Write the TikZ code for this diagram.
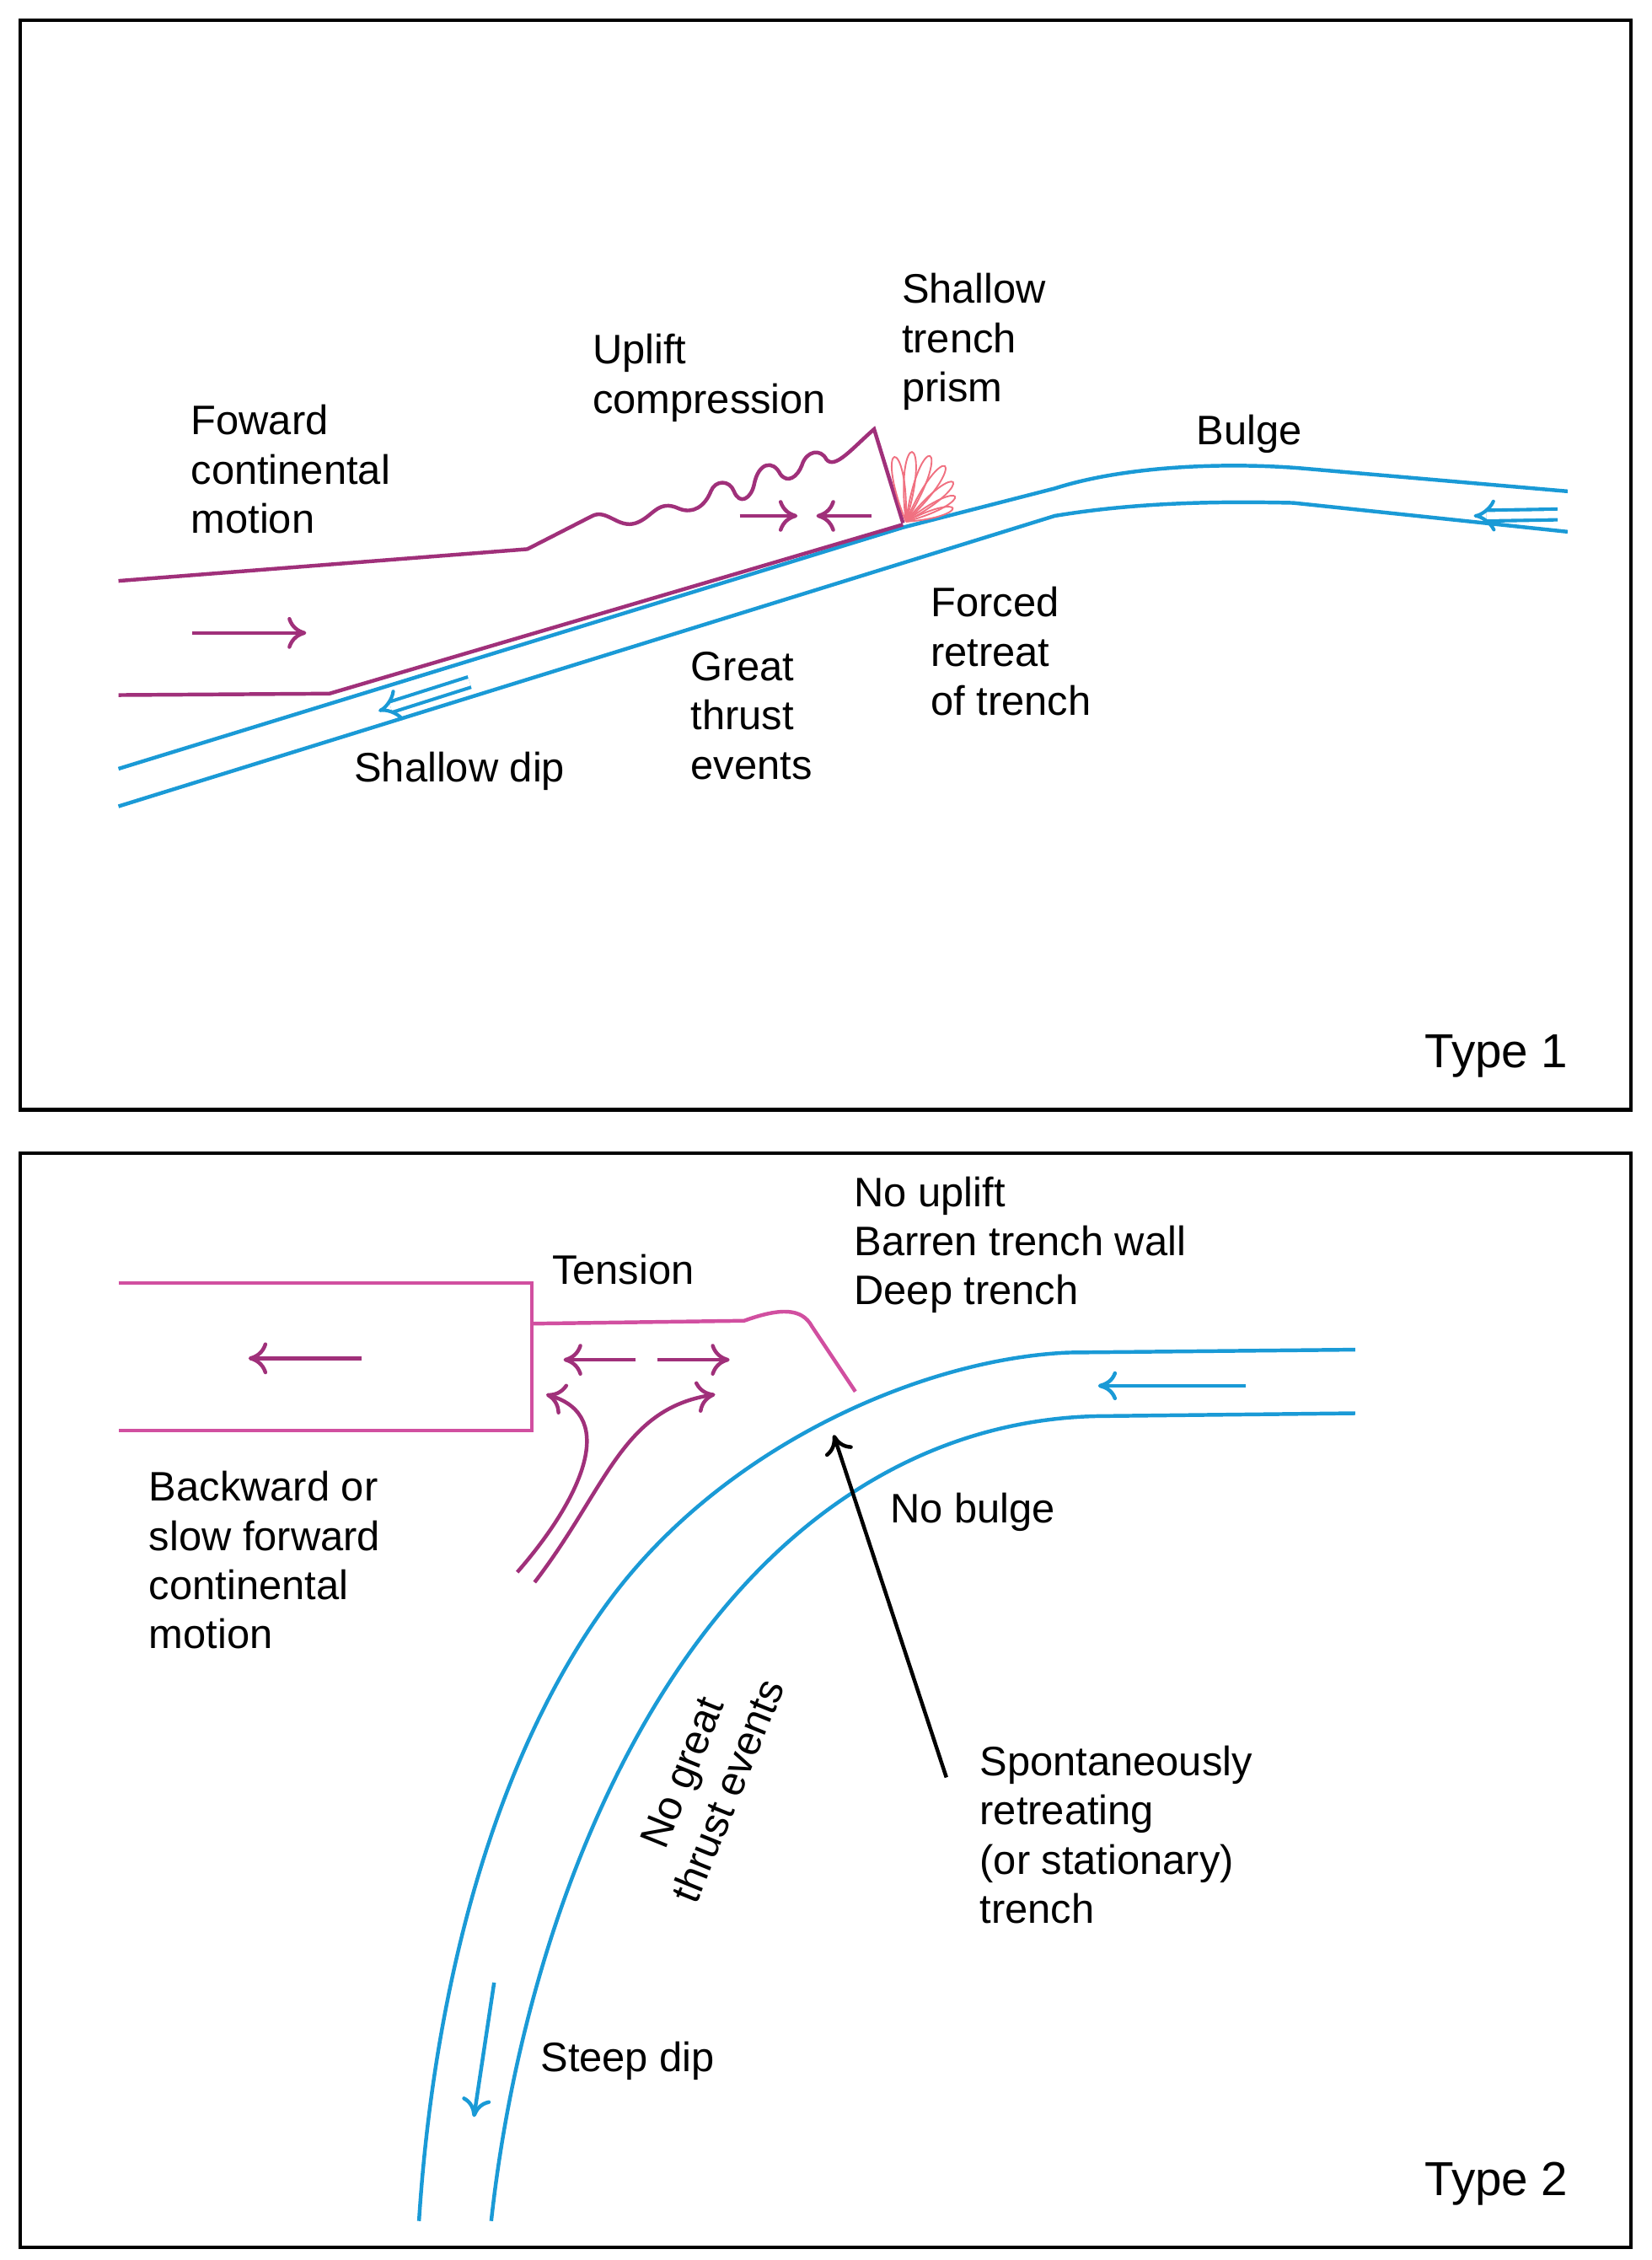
\documentclass[tikz,border=0pt]{standalone}
\usepackage{fontspec}
\setmainfont{Liberation Sans}
\usetikzlibrary{arrows.meta,calc}
\definecolor{sblue}{HTML}{1A9AD6}
\definecolor{cpur}{HTML}{A0307A}
\definecolor{cpink}{HTML}{D14FA0}
\definecolor{prism}{HTML}{F07080}
\begin{document}
\begin{tikzpicture}[x=1pt,y=-1pt,
 lbl/.style={font=\fontsize{28.5}{34}\selectfont,align=left,anchor=north west,inner sep=0},
 slab/.style={sblue,line width=2.6pt},
 pur/.style={cpur,line width=2.6pt},
 parr/.style={cpur,line width=2.6pt,-{To[length=13pt,width=22pt]}},
 barr/.style={sblue,line width=2.4pt,double distance=5pt,-{Implies}}]
\useasboundingbox (0,0) rectangle (1143,1564);
% frames
\draw[line width=2.4pt] (14,14) rectangle (1129,768);
\draw[line width=2.4pt] (14,798) rectangle (1129,1555);
% ---------- Type 1
\draw[slab] (82,532) -- (625,365) -- (730,338) .. controls (780,322) and (850,320) .. (900,324) -- (1085,340);
\draw[slab] (82,558) -- (730,357) .. controls (790,347) and (850,347) .. (895,348) -- (1085,368);
\draw[barr] (1078,356) -- (1020,357);
\draw[barr] (325,472) -- (262,492);
\draw[pur] (82,402) -- (365,380) -- (410,357)
 .. controls (420,352) and (428,366) .. (440,362)
 .. controls (452,358) and (455,345) .. (470,352)
 .. controls (480,356) and (488,350) .. (492,340)
 .. controls (495,332) and (505,332) .. (508,340)
 .. controls (512,350) and (520,345) .. (522,335)
 .. controls (525,320) and (535,318) .. (540,328)
 .. controls (545,335) and (552,330) .. (555,322)
 .. controls (558,312) and (568,310) .. (572,318)
 .. controls (578,325) and (590,310) .. (605,297) -- (625,362);
\draw[pur] (82,481) -- (228,480) -- (625,363);
\draw[parr] (133,438) -- (212,438);
\draw[parr] (512,357) -- (552,357);
\draw[parr] (603,357) -- (565,357);
\foreach \a/\r in {-100/62,-85/66,-70/66,-55/64,-40/58,-27/52,-16/46}{
 \draw[prism,line width=1.1pt] (627,361) .. controls ($(627,361)+(\a-12:\r)$) and ($(627,361)+(\a+12:\r)$) .. (627,361);}
\node[lbl] (t1) at (132,280) {Foward\\continental\\motion};
\node[lbl] (t2) at (410,231) {Uplift\\compression};
\node[lbl] (t3) at (624,189) {Shallow\\trench\\prism};
\node[lbl] (t4) at (828,287) {Bulge};
\node[lbl] (t5) at (644,406) {Forced\\retreat\\of trench};
\node[lbl] (t6) at (478,451) {Great\\thrust\\events};
\node[lbl] (t7) at (245,520) {Shallow dip};
\node[lbl,font=\fontsize{33}{38}\selectfont] (ty1) at (986,716) {Type 1};
% ---------- Type 2
\draw[cpink,line width=2.6pt] (82,888) -- (368,888) -- (368,990) -- (82,990);
\draw[cpink,line width=2.6pt] (368,916) -- (515,914) .. controls (540,905) and (555,905) .. (562,918) -- (592,963);
\draw[parr] (250,940) -- (172,940);
\draw[parr] (440,941) -- (390,941);
\draw[parr] (455,941) -- (505,941);
\draw[parr] (358,1088) .. controls (400,1040) and (430,980) .. (378,965);
\draw[parr] (370,1095) .. controls (420,1030) and (430,975) .. (495,965);
\draw[slab] (938,934) -- (740,936) .. controls (640,940) and (500,1000) .. (420,1110) .. controls (340,1220) and (300,1380) .. (290,1537);
\draw[slab] (938,978) -- (760,980) .. controls (660,982) and (560,1030) .. (480,1140) .. controls (400,1250) and (355,1400) .. (340,1537);
\draw[sblue,line width=2.6pt,-{To[length=13pt,width=20pt]}] (862,959) -- (760,959);
\draw[sblue,line width=2.6pt,-{To[length=13pt,width=20pt]}] (342,1372) -- (328,1465);
\draw[line width=2.6pt,-{To[length=13pt,width=20pt]}] (655,1230) -- (577,993);
\node[lbl] (u1) at (382,868) {Tension};
\node[lbl] (u2) at (591,814) {No uplift\\Barren trench wall\\Deep trench};
\node[lbl] (u3) at (103,1018) {Backward or\\slow forward\\continental\\motion};
\node[lbl] (u4) at (616,1033) {No bulge};
\node[lbl] (u5) at (678,1208) {Spontaneously\\retreating\\(or stationary)\\trench};
\node[lbl] (u6) at (374,1413) {Steep dip};
\node[font=\fontsize{28.5}{34}\selectfont,align=center,rotate=68,inner sep=0] (u7) at (488,1233) {No great\\thrust events};
\node[lbl,font=\fontsize{33}{38}\selectfont] (ty2) at (986,1496) {Type 2};
\end{tikzpicture}
\end{document}
